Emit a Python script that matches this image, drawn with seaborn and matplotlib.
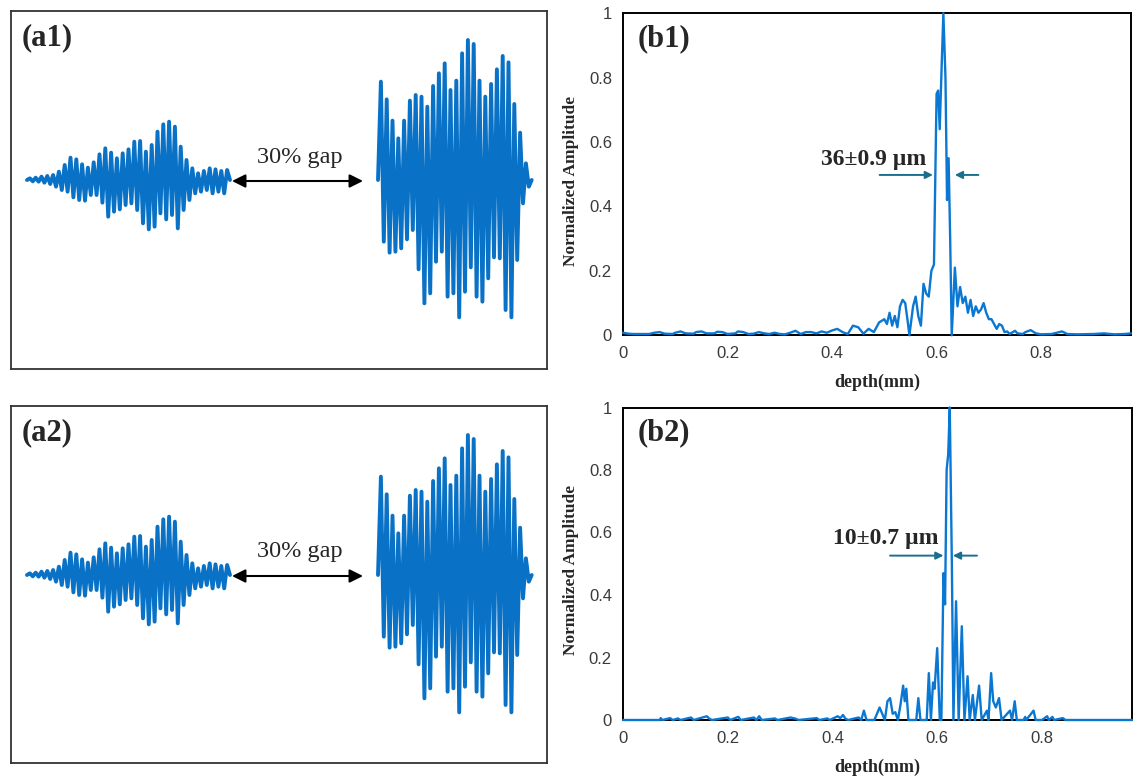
import numpy as np
import pandas as pd
import matplotlib
matplotlib.use("Agg")
import matplotlib.pyplot as plt
import seaborn as sns

# ---------------- data ----------------
# (a) waveforms: alternating extrema (arbitrary units), equally spaced in time
left_wave = [0, 5, -4, 7, -5, 10, -8, 12, -12, 15, -20, 25, -30, 45, -35, 67, -52,
             62, -60, 47, -62, 37, -45, 53, -45, 77, -68, 95, -110, 82, -95, 65, -88,
             80, -75, 92, -70, 115, -90, 117, -130, 85, -148, 105, -140, 145, -100,
             167, -118, 175, -105, 160, -145, 100, -90, 60, -60, 35, -40, 20, -35,
             27, -30, 35, -40, 32, -35, 27, -40, 30, 0]
right_wave = [0, 295, -185, 242, -218, 178, -215, 125, -205, 178, -178, 238, -150,
              255, -268, 250, -370, 220, -340, 282, -245, 320, -215, 350, -350, 270,
              -340, 298, -412, 380, -335, 420, -262, 408, -350, 298, -365, 250, -295,
              288, -232, 332, -235, 372, -390, 353, -412, 228, -240, 142, -70, 50,
              -20, 0]

# (b1) depth profile
b1_depth = [0.0, 0.01, 0.02, 0.035, 0.05, 0.06, 0.07, 0.08, 0.095, 0.10, 0.11, 0.12,
            0.135, 0.14, 0.15, 0.16, 0.175, 0.18, 0.19, 0.20, 0.215, 0.22, 0.23, 0.24,
            0.25, 0.26, 0.27, 0.28, 0.29, 0.30, 0.31, 0.32, 0.33, 0.34, 0.35, 0.36,
            0.37, 0.38, 0.39, 0.40, 0.41, 0.42, 0.43, 0.44, 0.45, 0.46, 0.47, 0.48,
            0.49, 0.50, 0.505, 0.51, 0.515, 0.52, 0.525, 0.53, 0.535, 0.54, 0.545,
            0.548, 0.555, 0.56, 0.565, 0.57, 0.575, 0.58, 0.585, 0.59, 0.595, 0.60,
            0.603, 0.606, 0.61, 0.613, 0.617, 0.62, 0.623, 0.626, 0.629, 0.635, 0.64,
            0.645, 0.65, 0.655, 0.66, 0.665, 0.67, 0.675, 0.68, 0.685, 0.69, 0.695,
            0.70, 0.705, 0.71, 0.715, 0.72, 0.725, 0.73, 0.735, 0.74, 0.75, 0.755,
            0.765, 0.77, 0.78, 0.79, 0.80, 0.82, 0.83, 0.84, 0.85, 0.87, 0.90, 0.92,
            0.94, 0.96, 0.972]
b1_amp = [0.008, 0.005, 0.004, 0.004, 0.004, 0.008, 0.010, 0.005, 0.004, 0.008, 0.012,
          0.006, 0.005, 0.010, 0.012, 0.006, 0.006, 0.011, 0.010, 0.004, 0.006, 0.012,
          0.010, 0.004, 0.005, 0.010, 0.006, 0.004, 0.008, 0.004, 0.003, 0.008, 0.014,
          0.004, 0.010, 0.010, 0.006, 0.012, 0.008, 0.015, 0.020, 0.010, 0.004, 0.030,
          0.025, 0.005, 0.020, 0.010, 0.040, 0.050, 0.035, 0.070, 0.030, 0.060, 0.025,
          0.090, 0.110, 0.100, 0.040, 0.000, 0.090, 0.120, 0.060, 0.030, 0.160, 0.130,
          0.120, 0.200, 0.220, 0.750, 0.760, 0.640, 0.850, 1.000, 0.800, 0.420, 0.550,
          0.300, 0.000, 0.210, 0.090, 0.150, 0.100, 0.120, 0.070, 0.110, 0.060, 0.090,
          0.070, 0.080, 0.100, 0.070, 0.050, 0.050, 0.035, 0.020, 0.035, 0.030, 0.010,
          0.012, 0.004, 0.014, 0.006, 0.004, 0.010, 0.016, 0.006, 0.003, 0.004, 0.008,
          0.012, 0.004, 0.003, 0.004, 0.006, 0.003, 0.004, 0.006]

# (b2) depth profile
b2_depth = [0.0, 0.07, 0.072, 0.075, 0.09, 0.095, 0.105, 0.11, 0.13, 0.135, 0.16,
            0.165, 0.17, 0.20, 0.205, 0.22, 0.225, 0.25, 0.255, 0.26, 0.265, 0.29,
            0.295, 0.32, 0.33, 0.335, 0.37, 0.375, 0.39, 0.395, 0.41, 0.415, 0.42,
            0.425, 0.43, 0.45, 0.455, 0.46, 0.465, 0.48, 0.49, 0.495, 0.50, 0.505,
            0.51, 0.515, 0.52, 0.525, 0.53, 0.535, 0.538, 0.541, 0.545, 0.56, 0.564,
            0.568, 0.58, 0.584, 0.588, 0.592, 0.595, 0.60, 0.605, 0.608, 0.612, 0.615,
            0.618, 0.621, 0.624, 0.628, 0.631, 0.636, 0.641, 0.647, 0.652, 0.658,
            0.662, 0.668, 0.672, 0.68, 0.685, 0.695, 0.698, 0.703, 0.707, 0.712,
            0.718, 0.723, 0.739, 0.743, 0.748, 0.752, 0.765, 0.768, 0.77, 0.784,
            0.788, 0.80, 0.81, 0.813, 0.82, 0.823, 0.84, 0.845, 0.972]
b2_amp = [0.0, 0.0, 0.006, 0.0, 0.006, 0.0, 0.005, 0.0, 0.008, 0.0, 0.012, 0.004, 0.0,
          0.008, 0.0, 0.010, 0.0, 0.008, 0.0, 0.012, 0.0, 0.005, 0.0, 0.008, 0.004,
          0.0, 0.006, 0.0, 0.005, 0.0, 0.012, 0.006, 0.016, 0.004, 0.0, 0.008, 0.0,
          0.030, 0.0, 0.0, 0.040, 0.020, 0.0, 0.060, 0.070, 0.020, 0.025, 0.0, 0.050,
          0.110, 0.060, 0.100, 0.0, 0.0, 0.070, 0.0, 0.0, 0.150, 0.0, 0.120, 0.100,
          0.230, 0.0, 0.0, 0.470, 0.370, 0.800, 0.850, 1.000, 0.500, 0.0, 0.380, 0.0,
          0.300, 0.0, 0.140, 0.0, 0.080, 0.0, 0.110, 0.0, 0.030, 0.0, 0.150, 0.060,
          0.040, 0.070, 0.0, 0.030, 0.0, 0.060, 0.0, 0.0, 0.010, 0.0, 0.030, 0.0, 0.0,
          0.012, 0.0, 0.010, 0.0, 0.006, 0.0, 0.0]

x_ticks = [0, 0.2, 0.4, 0.6, 0.8]
x_tick_labels = ["0", "0.2", "0.4", "0.6", "0.8"]
y_ticks = [0, 0.2, 0.4, 0.6, 0.8, 1.0]
y_tick_labels = ["0", "0.2", "0.4", "0.6", "0.8", "1"]

# ---------------- style ----------------
sns.set_style("white")
plt.rcParams["font.family"] = ["Liberation Sans", "DejaVu Sans"]
SERIF = ["Liberation Serif", "DejaVu Serif"]
WAVE = "#0a72c6"
LINE = "#0a78d2"
TEAL = "#1b6e8e"

W, H = 1143, 782
fig = plt.figure(figsize=(W / 100, H / 100), dpi=100)


def frac(x0, y0, x1, y1):
    return [x0 / W, 1 - y1 / H, (x1 - x0) / W, (y1 - y0) / H]


# ---------------- (a) panels ----------------
HALF = 2.9
for box, lab in [((11, 11, 547, 369), "(a1)"), ((11, 406, 547, 763), "(a2)")]:
    ax = fig.add_axes(frac(*box))
    bw = box[2] - box[0]
    bh = box[3] - box[1]
    ax.set_xlim(0, bw)
    ax.set_ylim(-(bh - 169) * 3, 169 * 3)
    xl = 16 + HALF * np.arange(len(left_wave))
    xr = 367 + HALF * np.arange(len(right_wave))
    sns.lineplot(x=xl, y=left_wave, ax=ax, color=WAVE, linewidth=2.8,
                 sort=False, solid_joinstyle="round", solid_capstyle="round")
    sns.lineplot(x=xr, y=right_wave, ax=ax, color=WAVE, linewidth=2.8,
                 sort=False, solid_joinstyle="round", solid_capstyle="round")
    ax.annotate("", xy=(352, -3), xytext=(221, -3),
                arrowprops=dict(arrowstyle="<|-|>", color="black", lw=1.5,
                                mutation_scale=20, shrinkA=0, shrinkB=0))
    ax.text(289, 69, "30% gap", ha="center", va="center", fontsize=17.5,
            family=SERIF)
    ax.text(0.02, 0.965, lab, transform=ax.transAxes, fontsize=22,
            fontweight="bold", family=SERIF, va="top", ha="left")
    ax.set_xticks([])
    ax.set_yticks([])
    for s in ax.spines.values():
        s.set_visible(True)
        s.set_color("#333333")
        s.set_linewidth(1.3)

# ---------------- (b) panels ----------------
panels = [
    ((623, 13.3, 1131, 335.3), b1_depth, b1_amp, "(b1)", "36±0.9 µm",
     (0.479, 0.547), 0.498, (0.491, 0.593), (0.680, 0.635), -0.118),
    ((623, 407.5, 1132, 720), b2_depth, b2_amp, "(b2)", "10±0.7 µm",
     (0.502, 0.58), 0.526, (0.51, 0.612), (0.676, 0.630), -0.125),
]
for box, dx, dy, lab, ann, tpos, ay, larr, rarr, xly in panels:
    ax = fig.add_axes(frac(*box))
    df = pd.DataFrame({"depth": dx, "amp": dy})
    sns.lineplot(data=df, x="depth", y="amp", ax=ax, color=LINE, linewidth=1.7,
                 sort=False, zorder=3, clip_on=False)
    ax.set_xlim(0, 0.972)
    ax.set_ylim(0, 1.0)
    ax.set_xticks(x_ticks, labels=x_tick_labels)
    ax.set_yticks(y_ticks, labels=y_tick_labels)
    ax.tick_params(axis="both", length=0, labelsize=12, labelcolor="#3a3a3a")
    ax.tick_params(axis="x", pad=8)
    ax.tick_params(axis="y", pad=8)
    ax.set_xlabel("depth(mm)", fontsize=13, fontweight="bold", family=SERIF)
    ax.set_ylabel("Normalized Amplitude", fontsize=12.5, fontweight="bold",
                  family=SERIF)
    ax.xaxis.set_label_coords(0.5, xly)
    ax.yaxis.set_label_coords(-0.087, 0.48)
    for s in ax.spines.values():
        s.set_visible(True)
        s.set_color("black")
        s.set_linewidth(1.4)
        s.set_zorder(2)
    ax.text(0.028, 0.965, lab, transform=ax.transAxes, fontsize=22,
            fontweight="bold", family=SERIF, va="top", ha="left")
    ax.text(tpos[0], tpos[1], ann, ha="center", va="center", fontsize=17,
            fontweight="bold", family=SERIF)
    for tail, head in [larr, rarr]:
        ax.annotate("", xy=(head, ay), xytext=(tail, ay),
                    arrowprops=dict(arrowstyle="-|>", color=TEAL, lw=1.4,
                                    mutation_scale=11, shrinkA=0, shrinkB=0))
    ax.grid(False)

fig.savefig("out.png", dpi=100, facecolor="white")
